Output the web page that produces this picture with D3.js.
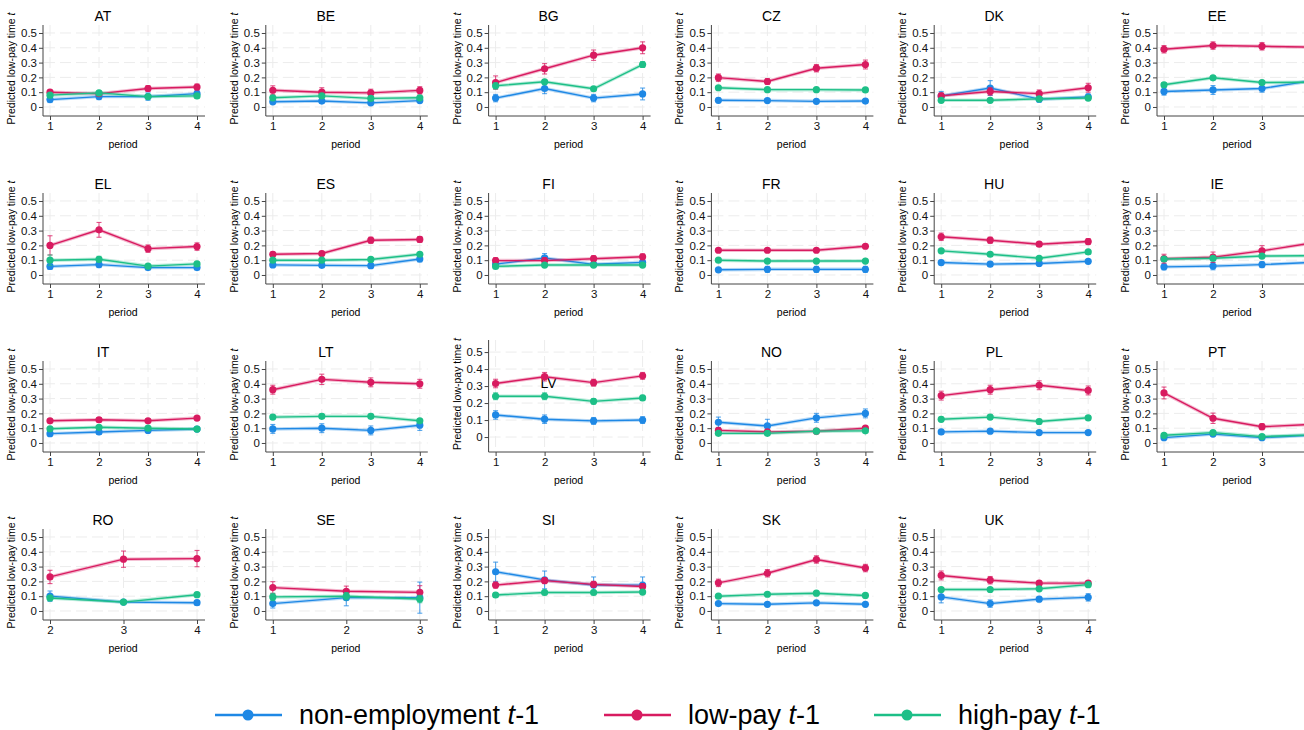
<!DOCTYPE html>
<html>
<head>
<meta charset="utf-8">
<script src="https://cdn.jsdelivr.net/npm/d3@7"></script>
<style>
  body { margin: 0; background: #fff; }
  svg { display: block; font-family: "Liberation Sans", Arial, sans-serif; }
</style>
</head>
<body>
<div id="chart"></div>
<script>
  // countries in panel order (6 per row)
  const countries = ['AT', 'BE', 'BG', 'CZ', 'DK', 'EE', 'EL', 'ES', 'FI', 'FR', 'HU', 'IE',
    'IT', 'LT', 'LV', 'NO', 'PL', 'PT', 'RO', 'SE', 'SI', 'SK', 'UK'];
  const defaultPeriods = [1, 2, 3, 4];
  const specialPeriods = { RO: [2, 3, 4], SE: [1, 2, 3] };
  const yTicks = [0, 0.1, 0.2, 0.3, 0.4, 0.5];

  // predicted probabilities, one row per country
  const nonEmployment = [
    [0.05, 0.07, 0.07, 0.09], [0.035, 0.04, 0.028, 0.043], [0.06, 0.125, 0.06, 0.088],
    [0.045, 0.043, 0.038, 0.04], [0.075, 0.128, 0.053, 0.068], [0.105, 0.115, 0.125, 0.177],
    [0.058, 0.07, 0.05, 0.05], [0.068, 0.065, 0.063, 0.108], [0.073, 0.115, 0.072, 0.085],
    [0.035, 0.038, 0.038, 0.038], [0.084, 0.073, 0.078, 0.092], [0.055, 0.06, 0.07, 0.085],
    [0.063, 0.074, 0.085, 0.094], [0.095, 0.1, 0.085, 0.12], [0.13, 0.105, 0.095, 0.1],
    [0.14, 0.115, 0.17, 0.2], [0.075, 0.08, 0.07, 0.07], [0.036, 0.06, 0.036, 0.052],
    [0.1, 0.06, 0.056], [0.05, 0.09, 0.09], [0.265, 0.21, 0.175, 0.175],
    [0.05, 0.045, 0.055, 0.045], [0.095, 0.05, 0.08, 0.092]
  ];
  const lowPay = [
    [0.1, 0.09, 0.125, 0.135], [0.113, 0.1, 0.095, 0.112], [0.165, 0.258, 0.35, 0.4],
    [0.198, 0.172, 0.262, 0.287], [0.075, 0.105, 0.09, 0.13], [0.39, 0.415, 0.41, 0.405],
    [0.2, 0.305, 0.178, 0.192], [0.14, 0.145, 0.235, 0.24], [0.097, 0.097, 0.11, 0.123],
    [0.167, 0.167, 0.167, 0.194], [0.258, 0.235, 0.208, 0.226], [0.11, 0.12, 0.163, 0.215],
    [0.15, 0.157, 0.15, 0.168], [0.36, 0.43, 0.41, 0.4], [0.315, 0.355, 0.32, 0.36],
    [0.085, 0.075, 0.08, 0.1], [0.32, 0.36, 0.39, 0.355], [0.338, 0.167, 0.11, 0.125],
    [0.23, 0.35, 0.354], [0.158, 0.133, 0.126], [0.175, 0.205, 0.18, 0.165],
    [0.19, 0.255, 0.348, 0.29], [0.24, 0.208, 0.188, 0.188]
  ];
  const highPay = [
    [0.08, 0.095, 0.07, 0.075], [0.062, 0.075, 0.058, 0.062], [0.143, 0.17, 0.123, 0.287],
    [0.13, 0.117, 0.117, 0.115], [0.045, 0.045, 0.055, 0.06], [0.15, 0.197, 0.165, 0.168],
    [0.1, 0.106, 0.06, 0.075], [0.1, 0.1, 0.105, 0.14], [0.058, 0.067, 0.067, 0.067],
    [0.1, 0.094, 0.094, 0.094], [0.163, 0.14, 0.113, 0.156], [0.108, 0.113, 0.128, 0.13],
    [0.096, 0.106, 0.1, 0.094], [0.175, 0.18, 0.18, 0.15], [0.24, 0.24, 0.21, 0.23],
    [0.065, 0.065, 0.08, 0.082], [0.16, 0.175, 0.145, 0.17], [0.052, 0.07, 0.043, 0.055],
    [0.088, 0.06, 0.11], [0.095, 0.1, 0.081], [0.108, 0.125, 0.125, 0.128],
    [0.1, 0.113, 0.12, 0.105], [0.145, 0.145, 0.15, 0.178]
  ];

  // 95% CI half-widths
  const nonEmploymentCI = [
    [0.02, 0.02, 0.025, 0.02], [0.012, 0.012, 0.012, 0.012], [0.025, 0.035, 0.025, 0.04],
    [0.015, 0.012, 0.012, 0.012], [0.03, 0.05, 0.02, 0.02], [0.025, 0.03, 0.025, 0.03],
    [0.02, 0.02, 0.015, 0.015], [0.015, 0.015, 0.015, 0.02], [0.015, 0.03, 0.015, 0.015],
    [0.015, 0.02, 0.02, 0.02], [0.015, 0.015, 0.012, 0.012], [0.02, 0.025, 0.02, 0.02],
    [0.015, 0.015, 0.012, 0.012], [0.03, 0.03, 0.03, 0.035], [0.025, 0.025, 0.02, 0.02],
    [0.035, 0.045, 0.03, 0.03], [0.012, 0.012, 0.012, 0.012], [0.01, 0.01, 0.01, 0.01],
    [0.035, 0.015, 0.015], [0.03, 0.055, 0.105], [0.065, 0.06, 0.055, 0.055],
    [0.012, 0.012, 0.012, 0.012], [0.04, 0.025, 0.015, 0.025]
  ];
  const lowPayCI = [
    [0.015, 0.012, 0.02, 0.02], [0.03, 0.03, 0.025, 0.025], [0.045, 0.035, 0.035, 0.04],
    [0.025, 0.02, 0.025, 0.03], [0.02, 0.025, 0.025, 0.03], [0.025, 0.025, 0.025, 0.025],
    [0.065, 0.05, 0.025, 0.025], [0.015, 0.015, 0.02, 0.02], [0.02, 0.02, 0.02, 0.02],
    [0.012, 0.012, 0.012, 0.012], [0.025, 0.02, 0.015, 0.02], [0.03, 0.035, 0.035, 0.035],
    [0.012, 0.015, 0.012, 0.012], [0.03, 0.035, 0.03, 0.03], [0.025, 0.025, 0.02, 0.02],
    [0.015, 0.015, 0.01, 0.012], [0.03, 0.03, 0.03, 0.03], [0.04, 0.035, 0.02, 0.02],
    [0.045, 0.055, 0.055], [0.04, 0.035, 0.045], [0.02, 0.02, 0.02, 0.02],
    [0.025, 0.025, 0.025, 0.025], [0.03, 0.025, 0.015, 0.015]
  ];
  const highPayCI = [
    [0.012, 0.01, 0.012, 0.012], [0.015, 0.012, 0.012, 0.012], [0.02, 0.015, 0.012, 0.02],
    [0.012, 0.01, 0.01, 0.01], [0.01, 0.01, 0.01, 0.01], [0.015, 0.012, 0.012, 0.015],
    [0.035, 0.02, 0.012, 0.012], [0.01, 0.01, 0.01, 0.01], [0.01, 0.01, 0.01, 0.01],
    [0.01, 0.01, 0.01, 0.01], [0.012, 0.01, 0.01, 0.01], [0.012, 0.012, 0.012, 0.012],
    [0.01, 0.01, 0.01, 0.01], [0.015, 0.015, 0.015, 0.012], [0.02, 0.02, 0.015, 0.015],
    [0.01, 0.01, 0.01, 0.01], [0.015, 0.015, 0.015, 0.015], [0.01, 0.01, 0.01, 0.01],
    [0.012, 0.012, 0.015], [0.025, 0.025, 0.025], [0.015, 0.015, 0.015, 0.015],
    [0.012, 0.01, 0.01, 0.01], [0.012, 0.012, 0.012, 0.012]
  ];

  const seriesNames = ['non-employment', 'low-pay', 'high-pay'];
  const seriesColors = ['#1e88e5', '#d81b60', '#1dbf87'];
  const seriesValues = [nonEmployment, lowPay, highPay];
  const seriesCI = [nonEmploymentCI, lowPayCI, highPayCI];

  const W = 1304, H = 730;
  const colStep = 222.8, rowStep = 168;

  const svg = d3.select('#chart').append('svg')
    .attr('width', W)
    .attr('height', H);

  countries.forEach(function (code, i) {
    const col = i % 6, row = Math.floor(i / 6);
    const left = 43 + col * colStep;
    const base = row * rowStep;
    const periods = specialPeriods[code] || defaultPeriods;

    // LV panel is drawn with a taller plot region
    let yRange = [base + 116, base + 25];
    let yDomain = [-0.061, 0.554];
    let titleY = base + 21;
    if (code === 'LV') {
      yRange = [base + 116, base + 4];
      yDomain = [-0.088, 0.571];
      titleY = base + 52;
    }

    const x = d3.scaleLinear()
      .domain([periods[0], periods[periods.length - 1]])
      .range([left + 7, left + 154]);
    const y = d3.scaleLinear().domain(yDomain).range(yRange);
    // tick labels past the page edge are not shown
    const shownPeriods = periods.filter(function (p) { return x(p) + 5 < W; });

    const g = svg.append('g');

    // grid
    g.selectAll('.hgrid').data(yTicks).enter().append('line')
      .attr('x1', left + 1).attr('x2', left + 162)
      .attr('y1', function (d) { return y(d); })
      .attr('y2', function (d) { return y(d); })
      .attr('stroke', '#ececec').attr('stroke-dasharray', '11,5');
    g.selectAll('.vgrid').data(periods).enter().append('line')
      .attr('x1', function (d) { return x(d); })
      .attr('x2', function (d) { return x(d); })
      .attr('y1', yRange[1]).attr('y2', yRange[0] - 1)
      .attr('stroke', '#ececec').attr('stroke-dasharray', '11,5');

    // axes
    const yAxis = g.append('g')
      .attr('transform', 'translate(' + left + ',0)')
      .call(d3.axisLeft(y).tickValues(yTicks).tickSize(4).tickSizeOuter(0)
        .tickFormat(function (d) { return d === 0 ? '0' : d3.format('.1f')(d); }));
    const xAxis = g.append('g')
      .attr('transform', 'translate(0,' + yRange[0] + ')')
      .call(d3.axisBottom(x).tickValues(shownPeriods).tickSize(4).tickSizeOuter(0)
        .tickFormat(d3.format('d')));
    [yAxis, xAxis].forEach(function (a) {
      a.select('.domain').attr('stroke', '#444');
      a.selectAll('.tick line').attr('stroke', '#444');
      a.selectAll('.tick text').attr('fill', '#111').style('font-size', '11.5px');
    });
    xAxis.select('.domain').attr('d', 'M' + left + ',0H' + (left + 162));
    yAxis.select('.domain').attr('d', 'M0,' + yRange[0] + 'V' + yRange[1]);
    yAxis.selectAll('.tick text').attr('x', -6);
    xAxis.selectAll('.tick text').attr('y', 6);

    // title and axis labels
    g.append('text')
      .attr('x', left + 60).attr('y', titleY)
      .attr('text-anchor', 'middle')
      .style('font-size', '14px')
      .text(code);
    g.append('text')
      .attr('x', left + 80).attr('y', base + 148)
      .attr('text-anchor', 'middle')
      .style('font-size', '10.5px')
      .text('period');
    const yl = g.append('text')
      .attr('transform', 'translate(' + (left - 28) + ',' + ((yRange[0] + yRange[1]) / 2 - 2) + ') rotate(-90)')
      .attr('text-anchor', 'middle')
      .style('font-size', '10.5px');
    yl.append('tspan').text('Predicted low-pay time ');
    yl.append('tspan').style('font-style', 'italic').text('t');

    // series
    seriesValues.forEach(function (vals, s) {
      const color = seriesColors[s];
      const pts = periods.map(function (p, k) {
        return { p: p, v: vals[i][k], ci: seriesCI[s][i][k] };
      });
      const line = d3.line()
        .x(function (d) { return x(d.p); })
        .y(function (d) { return y(d.v); });
      g.append('path').datum(pts)
        .attr('d', line).attr('fill', 'none')
        .attr('stroke', color).attr('stroke-opacity', 0.3).attr('stroke-width', 3.5);
      g.append('path').datum(pts)
        .attr('d', line).attr('fill', 'none')
        .attr('stroke', color).attr('stroke-width', 1.4);

      const eb = g.selectAll('.eb' + s).data(pts).enter().append('g')
        .attr('stroke', color).attr('stroke-opacity', 0.75).attr('stroke-width', 1.1);
      eb.append('line')
        .attr('x1', function (d) { return x(d.p); })
        .attr('x2', function (d) { return x(d.p); })
        .attr('y1', function (d) { return y(d.v - d.ci); })
        .attr('y2', function (d) { return y(d.v + d.ci); });
      eb.append('line')
        .attr('x1', function (d) { return x(d.p) - 2.5; })
        .attr('x2', function (d) { return x(d.p) + 2.5; })
        .attr('y1', function (d) { return y(d.v - d.ci); })
        .attr('y2', function (d) { return y(d.v - d.ci); });
      eb.append('line')
        .attr('x1', function (d) { return x(d.p) - 2.5; })
        .attr('x2', function (d) { return x(d.p) + 2.5; })
        .attr('y1', function (d) { return y(d.v + d.ci); })
        .attr('y2', function (d) { return y(d.v + d.ci); });

      g.selectAll('.pt' + s).data(pts).enter().append('circle')
        .attr('cx', function (d) { return x(d.p); })
        .attr('cy', function (d) { return y(d.v); })
        .attr('r', 3.6)
        .attr('fill', color);
    });
  });

  // legend
  const legendX = [215, 604, 874];
  const legend = svg.append('g');
  seriesNames.forEach(function (name, s) {
    const lx = legendX[s];
    legend.append('line')
      .attr('x1', lx).attr('x2', lx + 67)
      .attr('y1', 715).attr('y2', 715)
      .attr('stroke', seriesColors[s]).attr('stroke-width', 2.5);
    legend.append('circle')
      .attr('cx', lx + 33).attr('cy', 715).attr('r', 5.5)
      .attr('fill', seriesColors[s]);
    const t = legend.append('text')
      .attr('x', lx + 84).attr('y', 724)
      .style('font-size', '27px');
    t.append('tspan').text(name + ' ');
    t.append('tspan').style('font-style', 'italic').text('t');
    t.append('tspan').text('-1');
  });
</script>
</body>
</html>
